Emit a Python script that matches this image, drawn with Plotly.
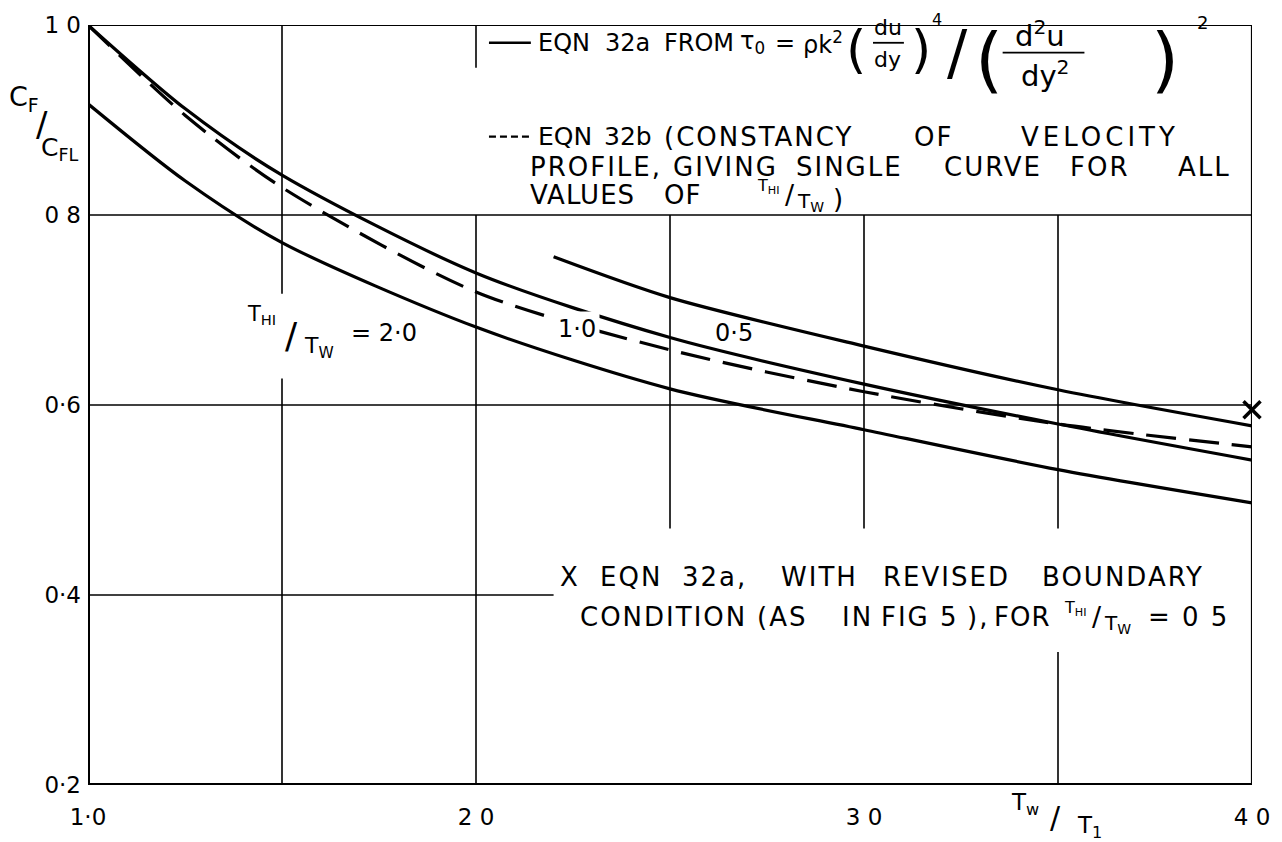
import plotly.graph_objects as go

# Skin-friction ratio C_F / C_FL against wall-temperature ratio T_w / T_1
x_main = [1.0, 1.25, 1.5, 2.0, 2.5, 3.0, 3.5, 4.0]
cf_thi_1 = [1.0, 0.912, 0.842, 0.739, 0.671, 0.622, 0.580, 0.542]      # eqn 32a, T_HI/T_W = 1.0
cf_single = [1.0, 0.905, 0.829, 0.719, 0.658, 0.614, 0.580, 0.556]     # eqn 32b, single curve
cf_thi_2 = [0.917, 0.836, 0.771, 0.682, 0.617, 0.574, 0.532, 0.497]    # eqn 32a, T_HI/T_W = 2.0
x_half = [2.2, 2.5, 3.0, 3.5, 4.0]
cf_thi_half = [0.756, 0.713, 0.662, 0.616, 0.578]                       # eqn 32a, T_HI/T_W = 0.5
x_revised = [4.0]
cf_revised = [0.595]                                                     # revised boundary condition

x_ticks = [1.0, 2.0, 3.0, 4.0]
x_ticktext = ["1·0", "2 0", "3 0", "4 0"]
y_ticks = [0.2, 0.4, 0.6, 0.8, 1.0]
y_ticktext = ["0·2", "0·4", "0·6", "0 8", "1 0"]

W, H = 1282, 842
L, R, T, B = 88, 27, 18, 55
PW, PH = W - L - R, H - T - B

FONT = "DejaVu Sans"
INK = "black"


def px(xp):
    return (xp - L) / PW


def py(yp):
    return (H - B - yp) / PH


fig = go.Figure()

curve = dict(color=INK, width=3.2, shape="spline", smoothing=0.8)
fig.add_trace(go.Scatter(x=x_main, y=cf_thi_1, mode="lines", line=curve))
fig.add_trace(go.Scatter(x=x_main, y=cf_single, mode="lines",
                         line=dict(curve, dash="30px,13px")))
fig.add_trace(go.Scatter(x=x_main, y=cf_thi_2, mode="lines", line=curve))
fig.add_trace(go.Scatter(x=x_half, y=cf_thi_half, mode="lines", line=curve))
fig.add_trace(go.Scatter(x=x_revised, y=cf_revised, mode="markers", cliponaxis=False,
                         marker=dict(symbol="x-thin", size=17,
                                     line=dict(color=INK, width=3.5))))

# grid lines, broken where the lettering sits
grid = dict(color=INK, width=1.6)
grid_segments = [
    ("h", 0.8, 1.0, 4.0), ("h", 0.6, 1.0, 4.0), ("h", 0.4, 1.0, 2.2),
    ("v", 1.5, 1.0, 0.717), ("v", 1.5, 0.628, 0.2),
    ("v", 2.0, 1.0, 0.955), ("v", 2.0, 0.8, 0.2),
    ("v", 2.5, 0.8, 0.47),
    ("v", 3.0, 0.8, 0.47),
    ("v", 3.5, 0.8, 0.47), ("v", 3.5, 0.34, 0.2),
]
for kind, c, a, b in grid_segments:
    if kind == "h":
        fig.add_shape(type="line", x0=a, x1=b, y0=c, y1=c, line=grid)
    else:
        fig.add_shape(type="line", x0=c, x1=c, y0=a, y1=b, line=grid)

# frame: heavy axes on left and bottom, lighter border top and right
fig.add_shape(type="line", x0=1.0, x1=1.0, y0=0.2, y1=1.0, line=dict(color=INK, width=4))
fig.add_shape(type="line", x0=1.0, x1=4.0, y0=0.2, y1=0.2, line=dict(color=INK, width=4))
fig.add_shape(type="line", x0=1.0, x1=4.0, y0=1.0, y1=1.0, line=dict(color=INK, width=2.2))
fig.add_shape(type="line", x0=4.0, x1=4.0, y0=0.2, y1=1.0, line=dict(color=INK, width=2.2))


def txt(x, y, s, size=26, anchor="center", bg=None, ls=0, pad=0):
    if ls:
        s = f'<span style="letter-spacing:{ls}px">{s}</span>'
    fig.add_annotation(x=px(x), y=py(y), xref="paper", yref="paper", text=s,
                       showarrow=False, xanchor=anchor, yanchor="middle",
                       bgcolor=bg, borderpad=pad,
                       font=dict(family=FONT, size=size, color=INK))


def words(y, items, size=26, ls=2):
    for x, s in items:
        txt(x, y, s, size, "left", ls=ls)


def hline(x0, x1, y, w=2, dash=None):
    fig.add_shape(type="line", xref="paper", yref="paper", x0=px(x0), x1=px(x1),
                  y0=py(y), y1=py(y), line=dict(color=INK, width=w, dash=dash))


def slanted_ratio(x, y, size=25):
    # T_HI over T_W written as a slanted fraction
    txt(x, y - 9, "T<sub>HI</sub>", size - 7)
    txt(x + 22, y, "/", size + 4)
    txt(x + 42, y + 7, "T<sub>W</sub>", size - 3)


# axis titles
txt(24, 92, "C<sub>F</sub>", 27)
txt(42, 118, "/", 34)
txt(60, 143, "C<sub>FL</sub>", 25)
txt(1027, 806, "T<sub>w</sub>", 23)
txt(1058, 820, "/", 30)
txt(1092, 830, "T<sub>1</sub>", 23)

# legend block, line 1 with the mixing-length stress relation
hline(490, 532, 36, 2.6)
words(36, [(538, "EQN"), (605, "32a"), (664, "FROM"), (741, "τ<sub>0</sub>"),
           (776, "="), (804, "ρk<sup>2</sup>")], 24, ls=0)
txt(858, 42, "(", 52)
txt(890, 21, "du", 22)
hline(875, 906, 36, 1.8)
txt(890, 53, "dy", 22)
txt(923, 42, ")", 52)
txt(939, 12, "4", 16)
txt(960, 45, "/", 60)
txt(991, 52, "(", 72)
txt(1042, 27, "d<sup>2</sup>u", 29)
hline(1005, 1087, 46, 1.8)
txt(1047, 68, "dy<sup>2</sup>", 29)
txt(1168, 52, ")", 72)
txt(1205, 15, "2", 18)

# legend block, dashed-curve description
hline(490, 532, 131, 2.2, "7px,4px")
words(131, [(538, "EQN"), (604, "32b")], 25, ls=0)
words(131, [(664, "(CONSTANCY")], ls=2)
words(131, [(915, "OF")], ls=2)
words(131, [(1022, "VELOCITY")], ls=4)
words(162, [(530, "PROFILE,"), (674, "GIVING"), (797, "SINGLE"), (945, "CURVE"),
            (1072, "FOR"), (1180, "ALL")], ls=2)
words(190, [(530, "VALUES"), (664, "OF")], ls=1)
slanted_ratio(770, 190, 23)
txt(834, 194, ")", 26, "left")

# curve labels
txt(262, 311, "T<sub>HI</sub>", 21)
txt(292, 332, "/", 36)
txt(320, 344, "T<sub>W</sub>", 22)
txt(385, 330, "= 2·0", 24)
txt(578, 326, "1·0", 24, bg="white", pad=3)
txt(736, 330, "0·5", 24)

# note on the revised boundary condition
words(577, [(560, "X"), (600, "EQN"), (683, "32a,"), (782, "WITH"), (884, "REVISED"),
            (1043, "BOUNDARY")], ls=2)
words(617, [(580, "CONDITION"), (758, "(AS"), (843, "IN"), (882, "FIG 5"), (968, "),")],
      ls=2)
words(617, [(995, "FOR")], ls=1)
slanted_ratio(1078, 617, 23)
txt(1150, 617, "= 0 5", 26, "left", ls=2)

fig.update_xaxes(range=[1.0, 4.0], tickvals=x_ticks, ticktext=x_ticktext,
                 showgrid=False, zeroline=False, showline=False, ticks="",
                 ticklabelstandoff=16,
                 tickfont=dict(family=FONT, size=23, color=INK))
fig.update_yaxes(range=[0.2, 1.0], tickvals=y_ticks, ticktext=y_ticktext,
                 showgrid=False, zeroline=False, showline=False, ticks="",
                 ticklabelstandoff=6,
                 tickfont=dict(family=FONT, size=23, color=INK))

fig.update_layout(width=W, height=H, margin=dict(l=L, r=R, t=T, b=B),
                  paper_bgcolor="white", plot_bgcolor="white", showlegend=False)

fig.write_html("out.html")
